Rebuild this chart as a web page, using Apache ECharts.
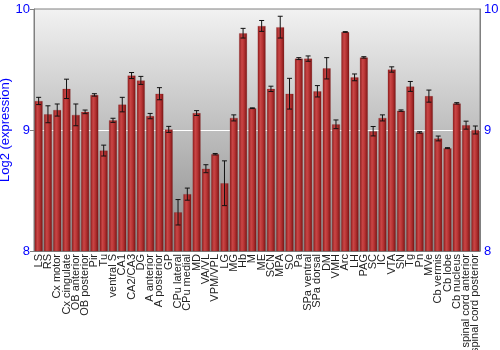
<!DOCTYPE html>
<html><head><meta charset="utf-8">
<script src="https://cdn.jsdelivr.net/npm/echarts@6/dist/echarts.min.js"></script>
<style>html,body{margin:0;padding:0;background:#fff}#c{width:500px;height:350px}</style>
</head><body><div id="c"></div>
<script>
const categories = ["LS","RS","Cx motor","Cx cingulate","OB anterior","OB posterior","Pir","Tu","ventral S","CA1","CA2/CA3","DG","A anterior","A posterior","GP","CPu lateral","CPu medial","MD","VA/VL","VPM/VPL","LG","MG","Hb","M","ME","SCN","MPA","SO","Pa","SPa ventral","SPa dorsal","DM","VMH","Arc","LH","PAG","SC","IC","VTA","SN","Tg","Pn","MVe","Cb vermis","Cb lobe","Cb nucleus","spinal cord anterior","spinal cord posterior"];
const values = [9.24,9.13,9.165,9.34,9.125,9.15,9.29,8.83,9.08,9.21,9.45,9.41,9.115,9.30,9.005,8.32,8.47,9.14,8.68,8.80,8.56,9.10,9.80,9.18,9.86,9.34,9.85,9.30,9.59,9.59,9.32,9.51,9.047,9.81,9.435,9.60,8.99,9.10,9.50,9.16,9.36,8.98,9.28,8.93,8.85,9.22,9.04,9.00];
const errors = [0.03,0.07,0.05,0.08,0.09,0.015,0.01,0.045,0.017,0.06,0.025,0.033,0.022,0.05,0.025,0.105,0.05,0.02,0.033,0.006,0.185,0.025,0.04,0.003,0.045,0.022,0.09,0.127,0.008,0.022,0.047,0.088,0.036,0.003,0.028,0.006,0.039,0.025,0.022,0.006,0.041,0.006,0.05,0.02,0.004,0.006,0.033,0.033];
const yTicks = {min: 8, max: 10, interval: 1};

const chart = echarts.init(document.getElementById('c'));
const errData = values.map((v, i) => [i, v - errors[i], v + errors[i]]);
chart.setOption({
  animation: false,
  grid: {
    left: 34, right: 20, top: 9, bottom: 99, show: true,
    outerBoundsMode: 'none', containLabel: false,
    borderColor: '#808080', borderWidth: 1,
    backgroundColor: new echarts.graphic.LinearGradient(0, 0, 0, 1, [
      {offset: 0, color: '#f2f2f2'}, {offset: 1, color: '#8a8a8a'}])
  },
  xAxis: {
    type: 'category', data: categories,
    axisLine: {lineStyle: {color: '#808080'}},
    axisTick: {show: false},
    axisLabel: {rotate: 90, interval: 0, fontSize: 11, color: '#222', margin: 3, fontFamily: 'Liberation Sans'}
  },
  yAxis: [{
    type: 'value', min: yTicks.min, max: yTicks.max, interval: yTicks.interval,
    name: 'Log2 (expression)', nameLocation: 'middle', nameGap: 22, nameMoveOverlap: false,
    nameTextStyle: {color: '#0000ff', fontSize: 13, fontFamily: 'Liberation Sans'},
    axisLine: {show: true, lineStyle: {color: '#808080'}},
    axisTick: {show: true, length: 4, lineStyle: {color: '#808080'}},
    axisLabel: {color: '#0000ff', fontSize: 13, margin: 4, fontFamily: 'Liberation Sans'},
    splitLine: {show: true, lineStyle: {color: ['transparent', '#ffffff', 'transparent'], width: 1}}
  }, {
    type: 'value', min: yTicks.min, max: yTicks.max, interval: yTicks.interval, position: 'right',
    axisLine: {show: true, lineStyle: {color: '#808080'}},
    axisTick: {show: false},
    axisLabel: {color: '#0000ff', fontSize: 13, margin: 4, fontFamily: 'Liberation Sans'},
    splitLine: {show: false}
  }],
  series: [{
    type: 'bar', data: values, barWidth: '86%',
    itemStyle: {
      color: new echarts.graphic.LinearGradient(0, 0, 1, 0, [
        {offset: 0, color: '#8e1c1c'}, {offset: 0.35, color: '#c94646'},
        {offset: 0.6, color: '#b83434'}, {offset: 1, color: '#7a1414'}]),
      borderColor: 'rgba(120,20,20,0.4)', borderWidth: 0.5
    }
  }, {
    type: 'custom', data: errData,
    renderItem: function (params, api) {
      const x = api.value(0);
      const lo = api.coord([x, api.value(1)]);
      const hi = api.coord([x, api.value(2)]);
      const hw = 2.5;
      const st = {stroke: '#111', lineWidth: 1};
      return {type: 'group', children: [
        {type: 'line', shape: {x1: lo[0], y1: lo[1], x2: hi[0], y2: hi[1]}, style: st},
        {type: 'line', shape: {x1: lo[0] - hw, y1: lo[1], x2: lo[0] + hw, y2: lo[1]}, style: st},
        {type: 'line', shape: {x1: hi[0] - hw, y1: hi[1], x2: hi[0] + hw, y2: hi[1]}, style: st}
      ]};
    },
    z: 5
  }]
});
</script></body></html>
